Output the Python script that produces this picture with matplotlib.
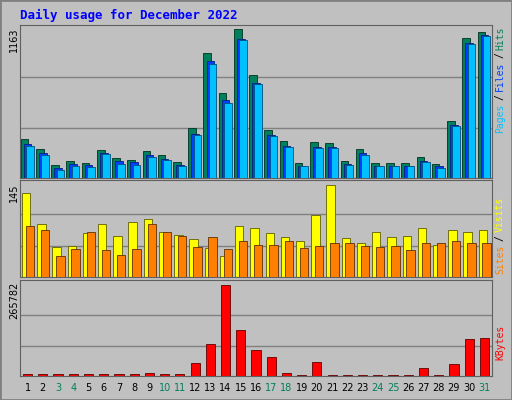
import matplotlib
matplotlib.use("Agg")
import matplotlib.pyplot as plt
import numpy as np

days = list(range(1, 32))
weekend = {3, 4, 10, 11, 17, 18, 24, 25, 31}
hits = [302,225,101,132,116,217,155,140,209,178,124,388,961,651,1147,791,372,287,116,279,271,132,225,116,116,116,163,108,442,1078,1124]
files = [260,195,80,110,100,195,130,120,175,150,100,340,900,600,1070,730,330,250,95,240,240,110,190,95,95,95,130,90,410,1040,1100]
pages = [250,180,60,95,85,185,110,100,160,140,90,330,880,580,1060,720,320,240,90,230,230,100,180,90,90,90,120,80,400,1030,1090]
visits = [130,82,46,47,67,81,63,84,89,69,64,58,44,32,79,75,67,61,55,96,142,60,52,69,61,63,76,49,73,70,72]
sites = [78,72,32,43,70,41,34,43,81,69,63,46,61,43,55,49,50,55,44,47,52,53,47,46,47,41,53,52,56,53,53]
kbytes = [5000,5000,5000,5000,5000,5000,5000,5000,8000,5000,5000,38000,93000,265782,134000,76000,55000,8000,3000,41000,3000,3000,3000,3000,3000,3000,23000,3000,35000,108000,111000]
max_hits, max_visits, max_k = 1163, 145, 265782

W, H = 512, 400
fig = plt.figure(figsize=(5.12, 4.0), dpi=100, facecolor="#C0C0C0")
fig.patches.append(plt.Rectangle((0, 0), 1, 1, transform=fig.transFigure, fill=False, ec="#808080", lw=2))
fig.text(20/W, 1-15/H, "Daily usage for December 2022", color="#0000FF", fontsize=9,
         fontweight="bold", family="DejaVu Sans Mono", va="center")

def mkax(top, bot):
    ax = fig.add_axes([20/W, 1-bot/H, (492-20)/W, (bot-top)/H], facecolor="#C0C0C0")
    ax.set_xlim(0.5, 31.5)
    ax.set_xticks([])
    ax.set_yticks([])
    for s in ax.spines.values():
        s.set_color("#606060")
    return ax

x = np.array(days)
ax1 = mkax(25, 178)
ax1.set_ylim(0, max_hits*1.013)
for g in (max_hits/3, 2*max_hits/3):
    ax1.axhline(g, color="#808080", lw=1, zorder=0)
ax1.bar(x-0.2, hits, width=0.5, color="#00805C", ec="#003020", lw=0.6, zorder=2)
ax1.bar(x, files, width=0.5, color="#0040FF", ec="#002080", lw=0.6, zorder=3)
ax1.bar(x+0.15, pages, width=0.5, color="#00C0FF", ec="#005080", lw=0.6, zorder=4)

ax2 = mkax(180, 277)
ax2.set_ylim(0, max_visits*1.03)
for g in (max_visits/3, 2*max_visits/3):
    ax2.axhline(g, color="#808080", lw=1, zorder=0)
ax2.bar(x-0.1, visits, width=0.55, color="#FFFF00", ec="#606000", lw=0.6, zorder=2)
ax2.bar(x+0.15, sites, width=0.55, color="#FF8000", ec="#603000", lw=0.6, zorder=3)

ax3 = mkax(280, 376)
ax3.set_ylim(0, max_k*1.05)
for g in (max_k/3, 2*max_k/3):
    ax3.axhline(g, color="#808080", lw=1, zorder=0)
ax3.bar(x, kbytes, width=0.6, color="#FF0000", ec="#600000", lw=0.6, zorder=2)

for d in days:
    fig.text((20 + (d-0.5)*(472/31))/W, 1-388/H, str(d), ha="center", va="center",
             fontsize=7, color="#00805C" if d in weekend else "#000000")

for txt, yc in (("1163", 40), ("145", 193), ("265782", 300)):
    fig.text(14/W, 1-yc/H, txt, rotation=90, ha="center", va="center", fontsize=7)

def rlabel(parts, ycenter):
    # parts listed top->bottom when rotated (reading bottom-to-top)
    fig.text(500/W, 1-ycenter/H, "", fontsize=7)
    step = 7
    total = sum(len(p) for p, _ in parts)
    y = ycenter + total*step/2
    for p, c in parts:
        n = len(p)
        fig.text(500/W, 1-(y - n*step/2)/H, p, rotation=90, ha="center", va="center",
                 fontsize=7, color=c, family="DejaVu Sans Mono")
        y -= n*step

rlabel([("Pages", "#00C0FF"), ("/", "#000000"), ("Files", "#0040FF"), ("/", "#000000"), ("Hits", "#00805C")], 80)
rlabel([("Sites", "#FF8000"), ("/", "#000000"), ("Visits", "#FFFF00")], 235)
rlabel([("KBytes", "#FF0000")], 342)

fig.savefig("out.png", dpi=100, facecolor="#C0C0C0")
